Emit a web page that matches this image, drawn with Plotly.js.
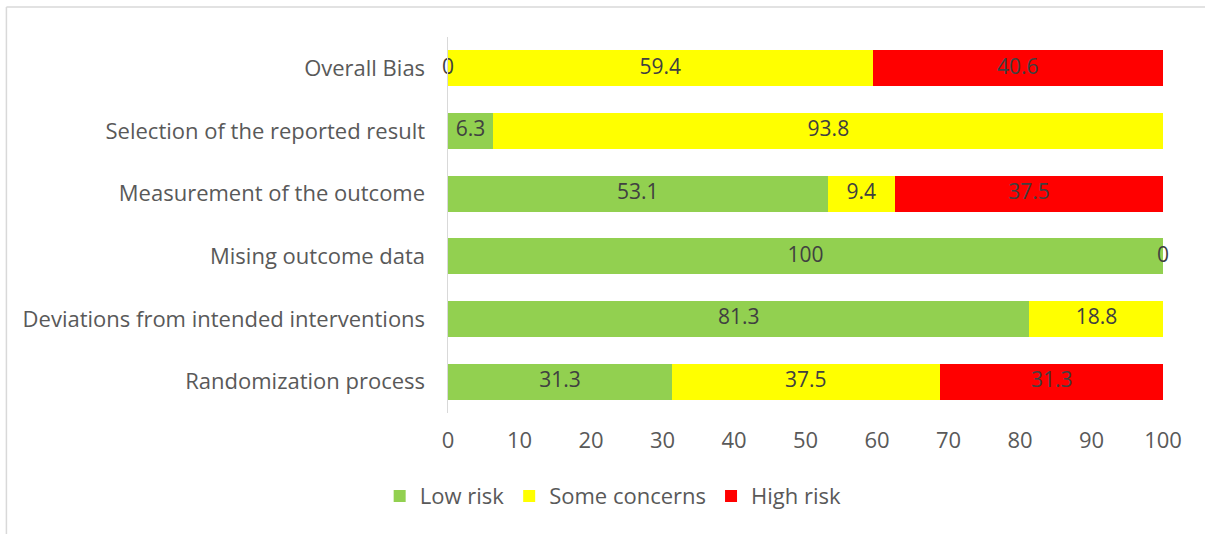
<!DOCTYPE html>
<html>
<head>
<meta charset="utf-8">
<script src="https://cdn.plot.ly/plotly-3.0.1.min.js"></script>
<style>html,body{margin:0;padding:0;background:#fff;}#chart{width:1205px;height:534px;}</style>
</head>
<body>
<div id="chart"></div>
<script>
// Categories from bottom to top
var categories = ["Randomization process", "Deviations from intended interventions", "Mising outcome data", "Measurement of the outcome", "Selection of the reported result", "Overall Bias"];
var lowRisk = [31.3, 81.3, 100, 53.1, 6.3, 0];
var someConcerns = [37.5, 18.8, 0, 9.4, 93.8, 59.4];
var highRisk = [31.3, null, null, 37.5, null, 40.6];
var seriesNames = ["Low risk", "Some concerns", "High risk"];
var seriesColors = ["#92d050", "#ffff00", "#ff0000"];
var xTicks = [0, 10, 20, 30, 40, 50, 60, 70, 80, 90, 100];

var series = [lowRisk, someConcerns, highRisk];
var FONT = "Open Sans, Liberation Sans, Arial, sans-serif";

var traces = series.map(function (vals, i) {
  return {
    type: "bar", orientation: "h", name: seriesNames[i],
    y: categories, x: vals.map(function (v) { return v === null ? 0 : v; }),
    marker: { color: seriesColors[i], line: { width: 0 } },
    width: 0.575, hoverinfo: "x+name"
  };
});

// Data labels centred on each segment (as in the original, zero-valued segments keep a "0" label)
var lx = [], ly = [], lt = [];
categories.forEach(function (c, j) {
  var cum = 0;
  series.forEach(function (vals) {
    var v = vals[j];
    if (v !== null) {
      lx.push(cum + v / 2); ly.push(c); lt.push(String(v));
      cum += v;
    }
  });
});
traces.push({
  type: "scatter", mode: "text", x: lx, y: ly, text: lt,
  textposition: "middle center",
  textfont: { family: FONT, size: 21, color: "#404040" },
  showlegend: false, hoverinfo: "skip", cliponaxis: false
});

var layout = {
  width: 1205, height: 534,
  margin: { l: 448, r: 42, t: 37, b: 121 },
  barmode: "stack",
  paper_bgcolor: "#fff", plot_bgcolor: "#fff",
  font: { family: FONT, size: 22, color: "#595959" },
  xaxis: {
    range: [0, 100], tickvals: xTicks, ticktext: xTicks.map(String),
    showgrid: false, zeroline: false, showline: false, ticks: "",
    ticklabelstandoff: 12, fixedrange: true
  },
  yaxis: {
    type: "category", categoryorder: "array", categoryarray: categories,
    range: [-0.5, 5.5],
    showgrid: false, zeroline: false, showline: true,
    linecolor: "#d9d9d9", linewidth: 1.5, ticks: "", ticklabelstandoff: 17,
    fixedrange: true
  },
  legend: {
    orientation: "h", x: 0.231, xanchor: "center", y: -0.221, yanchor: "middle",
    font: { family: FONT, size: 22, color: "#595959" },
    traceorder: "normal", itemwidth: 30, itemclick: false
  },
  showlegend: true,
  shapes: [
    { type: "line", xref: "paper", yref: "paper", x0: -0.6176, x1: 1.06, y0: 1.0798, y1: 1.0798, line: { color: "#d9d9d9", width: 1.5 } },
    { type: "line", xref: "paper", yref: "paper", x0: -0.6176, x1: -0.6176, y0: 1.0798, y1: -0.33, line: { color: "#d9d9d9", width: 1.5 } }
  ]
};

Plotly.newPlot("chart", traces, layout, { displayModeBar: false, staticPlot: true });
</script>
</body>
</html>
